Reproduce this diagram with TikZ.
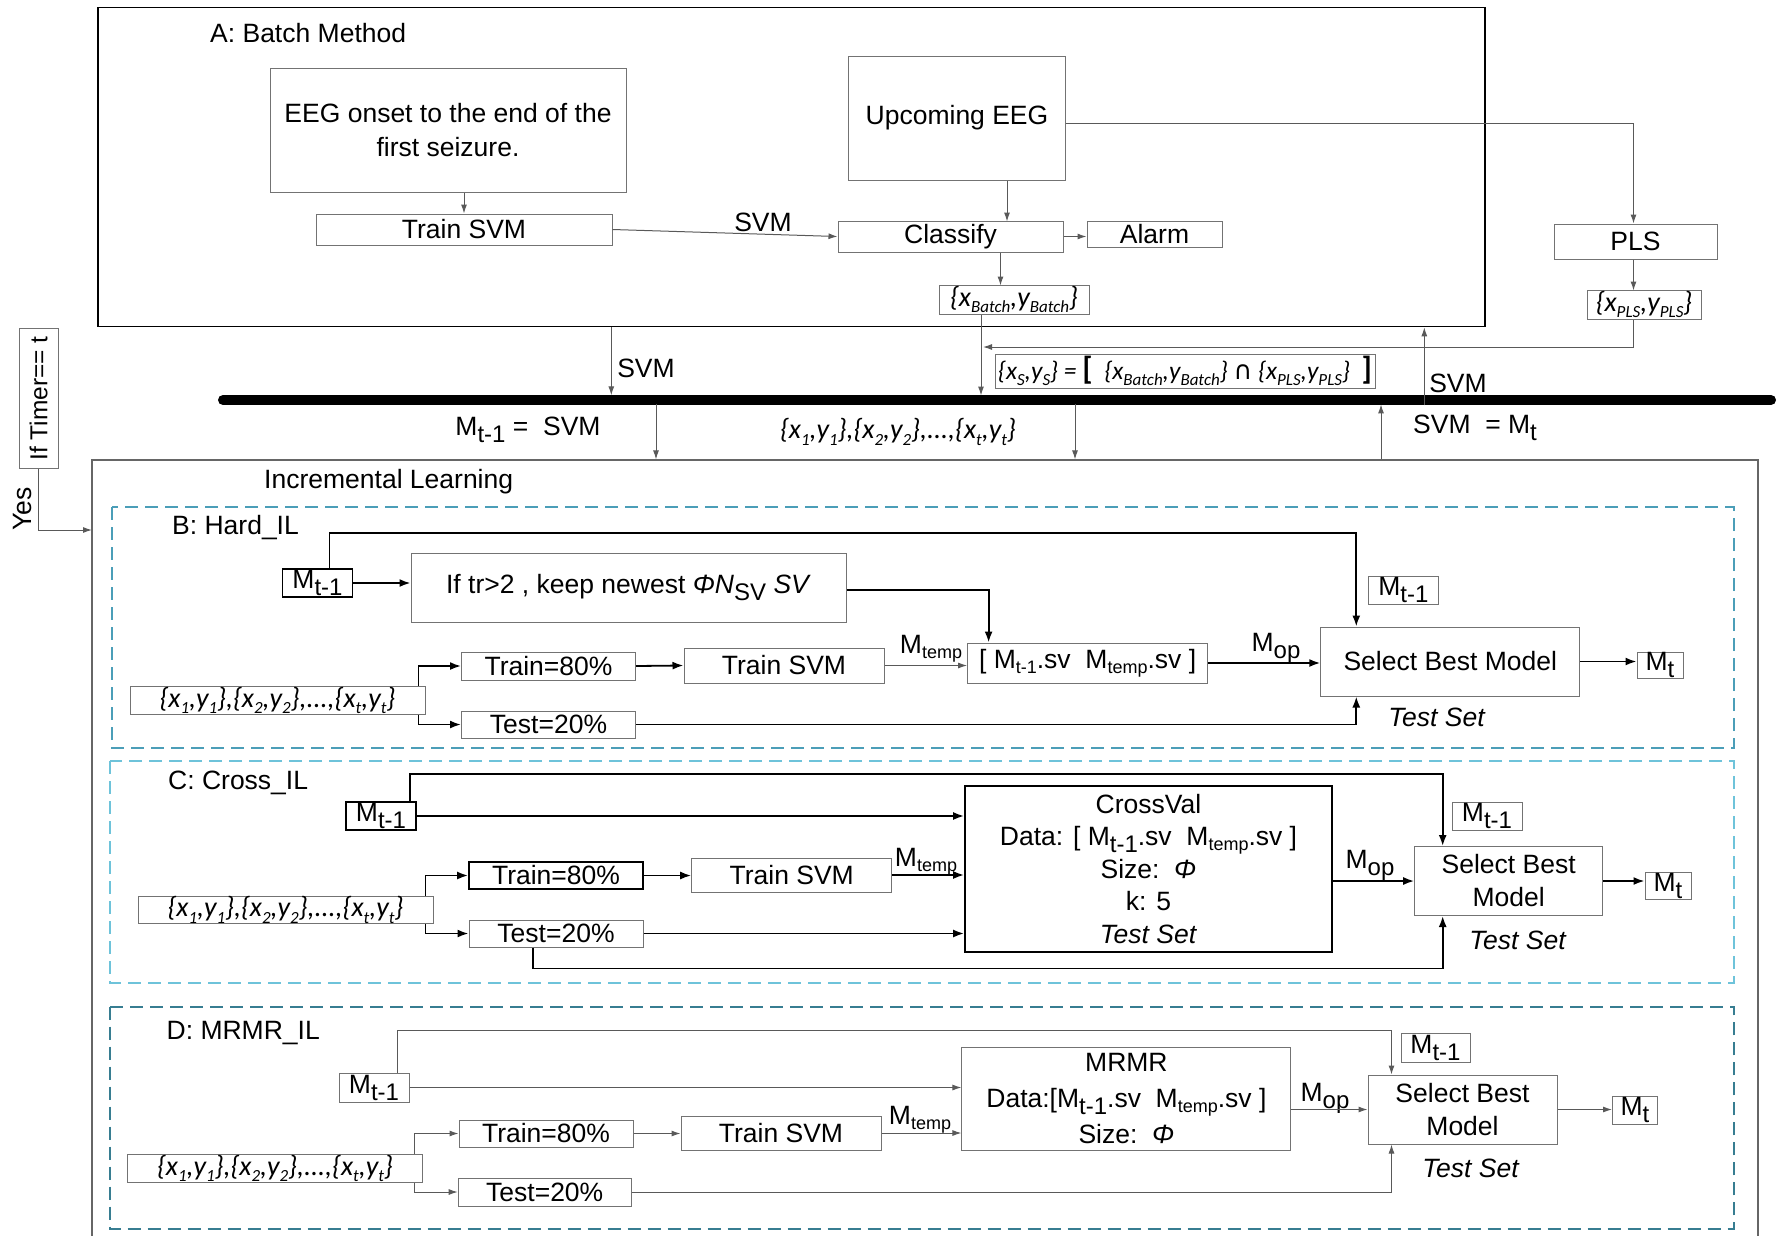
\documentclass[tikz,border=0pt]{standalone}
\usepackage{fontspec}
\setmainfont{Liberation Sans}
\newfontfamily\calfont{Carlito}
\newfontfamily\dejavu{DejaVu Sans}
\usetikzlibrary{arrows.meta}
\definecolor{colB}{RGB}{75,158,184}
\definecolor{colC}{RGB}{110,195,218}
\definecolor{colD}{RGB}{55,125,145}
\newcommand\lowr[1]{\raisebox{-0.5ex}{\fontsize{24}{24}\selectfont #1}}
\newcommand\Msub[1]{M\lowr{#1}}
\newcommand\Msm[1]{M\raisebox{-0.35ex}{\fontsize{18}{18}\selectfont #1}}
\newcommand\Mtmp{\Msm{temp}}
\newcommand\subc[1]{\raisebox{-0.5ex}{\fontsize{17}{17}\selectfont #1}}
\newcommand\xylist{{\calfont\itshape\fontsize{28}{28}\selectfont\{x\subc{1},y\subc{1}\},\{x\subc{2},y\subc{2}\},...,\{x\subc{t},y\subc{t}\}}}
\begin{document}
\begin{tikzpicture}[x=1pt,y=-1pt,
  every node/.style={font=\fontsize{26.5}{32}\selectfont, inner sep=0pt},
  box/.style={draw=black!55, line width=1pt},
  boxk/.style={draw=black, line width=1.8pt},
  sz/.style 2 args={minimum width=#1pt, minimum height=#2pt},
  arr/.style={draw=black!65, line width=1pt, -{Latex[length=9pt,width=6pt]}},
  arrk/.style={draw=black, line width=1.8pt, -{Latex[length=11pt,width=8pt]}},
  grp/.style={draw=#1, line width=1.6pt, dash pattern=on 13pt off 7pt},
  ttl/.style={anchor=west}]
\useasboundingbox (0,0) rectangle (1783,1235);

% A: batch method
\node[draw, line width=1.6pt, sz={1387}{319}] (batch) at (791.3,167) {};
\node[ttl] (tA) at (210,33) {A: Batch Method};
\node[box, sz={356}{124}, align=center, font=\fontsize{26.5}{34}\selectfont] (onset) at (448,130) {EEG onset to the end of the\\first seizure.};
\node[box, sz={296}{31}] (trainA) at (464,229.5) {Train SVM};
\node[box, sz={217}{124}] (upc) at (957,118) {Upcoming EEG};
\node[box, sz={225}{31}] (cls) at (950.5,236.5) {Classify};
\node[box, sz={135}{26}] (alarm) at (1154.5,234) {Alarm};
\node[box, sz={150}{29}] (xbat) at (1014,299.5) {\calfont\itshape\fontsize{28}{28}\selectfont\{x\subc{Batch},y\subc{Batch}\}};
\node[box, sz={163}{35}] (pls) at (1635.5,241.5) {PLS};
\node[box, sz={114}{29}] (xpls) at (1644,304.5) {\calfont\itshape\fontsize{28}{28}\selectfont\{x\subc{PLS},y\subc{PLS}\}};
\node[box, sz={380}{34}] (xs) at (1185,371) {\calfont\itshape\fontsize{25.5}{26}\selectfont\{x\subc{S},y\subc{S}\} = {\fontsize{32}{32}\selectfont\upshape\bfseries[}\ \ \{x\subc{Batch},y\subc{Batch}\} {\dejavu\upshape ∩} \{x\subc{PLS},y\subc{PLS}\}\ \ {\fontsize{32}{32}\selectfont\upshape\bfseries]}};
\node (lsvm1) at (763,222) {SVM};

\draw[arr] (onset.south -| trainA.north) -- (trainA.north);
\draw[arr] (trainA.east) -- (cls.west);
\draw[arr] ([xshift=50]upc.south) -- ++(0,41);
\draw[arr] ([xshift=50]cls.south) -- ++(0,33);
\draw[arr] (cls.east) -- (cls.east -| alarm.west);
\draw[arr] ([yshift=-5]upc.east) -| ([xshift=-2]pls.north);
\draw[arr] ([xshift=-2]pls.south) -- ++(0,31);
\coordinate (merge) at (983,347);
\draw[arr] ([xshift=-11]xpls.south) |- (merge);
\draw[arr] ([xshift=-33]xbat.south) -- ++(0,81);

% bus
\draw[line width=10pt, line cap=round] (223,400) coordinate (barL) -- (1771,400) coordinate (barR);
\draw[arr] ([xshift=-180]batch.south) -- ++(0,68);
\node (lsvm2) at (646,368) {SVM};
\draw[arr] ([xshift=633,yshift=-78]batch.south) -- ([xshift=633]batch.south);
\node (lsvm3) at (1458,383) {SVM};

% timer
\node[box, rotate=90, sz={140}{39}, font=\fontsize{24.5}{30}\selectfont] (timer) at (38.5,398.5) {If Timer== t};
\node[rotate=90] (yes) at (23,509) {Yes};
\coordinate (yesend) at (92,530);
\draw[arr] (timer.west) |- (yesend);

% incremental learning
\node[draw=black!60, line width=1.2pt, sz={1666}{785}] (il) at (925,852.5) {};
\node[ttl] (tIL) at (264,482) {Incremental Learning};
\draw[arr] ([xshift=-269,yshift=55]il.north) -- ([xshift=-269]il.north);
\node (lm1) at (528,430) {\Msub{t-1} =\ \ SVM};
\draw[arr] ([xshift=150,yshift=55]il.north) -- ([xshift=150]il.north);
\node (lxy) at (898,432) {\xylist};
\draw[arr] ([xshift=456]il.north) -- ++(0,-55);
\node (lmt) at (1475,428) {SVM\ \ = \Msub{t}};

% B: hard
\draw[grp=colB] (112,507) rectangle (1734,748);
\node[ttl] (tB) at (172,528) {B: Hard\_IL};
\node[boxk, sz={70}{28}] (bM) at (317.5,583) {\Msub{t-1}};
\node[box, sz={435}{69}] (bIf) at (628.5,587.5) {If tr>2 , keep newest \textit{ΦN}\lowr{SV} \textit{SV}};
\node[box, sz={174}{28}] (bTr) at (548.5,666) {Train=80\%};
\node[box, sz={200}{35}] (bSvm) at (784,665.5) {Train SVM};
\node[box, sz={240}{40}] (bCat) at (1087.6,663) {[ \Msm{t-1}.sv\ \ \Mtmp.sv ]};
\node[box, sz={259}{69}] (bSel) at (1450.3,661.5) {Select Best Model};
\node[box, sz={70}{28}] (bMl) at (1403.3,590) {\Msub{t-1}};
\node[box, sz={46}{26}] (bMt) at (1660,665) {\Msub{t}};
\node[box, sz={295}{27}] (bData) at (277.5,700.5) {\xylist};
\node[box, sz={174}{27}] (bTe) at (548.5,724.5) {Test=20\%};
\node (bTs) at (1437,717) {\textit{Test Set}};
\node (bMtmp) at (931,649) {\Mtmp};
\node (bMop) at (1276,648) {\Msub{op}};

\draw[arrk] ([xshift=12]bM.north) -- ++(0,-35) -| ([xshift=-94]bSel.north);
\draw[arrk] (bM.east) -- (bM.east -| bIf.west);
\draw[arrk] ([yshift=-2.5]bIf.east) -| ([xshift=-99]bCat.north);
\draw[arrk] ([xshift=-7]bData.north east) |- (bTr.west);
\draw[arrk] ([xshift=-7]bData.south east) |- (bTe.west);
\draw[arrk] (bTr.east) -- (bSvm.west);
\draw[arr] (bSvm.east) -- (bSvm.east -| bCat.west);
\draw[arrk] (bCat.east) -- (bCat.east -| bSel.west);
\draw[arrk] (bTe.east) -| ([xshift=-94]bSel.south);
\draw[arrk] (bSel.east) -- (bSel.east -| bMt.west);

% C: cross
\draw[grp=colC] (110,761) rectangle (1734,983);
\node[ttl] (tC) at (168,783) {C: Cross\_IL};
\node[boxk, sz={70}{28}] (cM) at (381,816) {\Msub{t-1}};
\node[boxk, sz={367}{166}, align=center, font=\fontsize{26.5}{32.5}\selectfont] (cVal) at (1148.5,869) {CrossVal\\Data: [ \Msub{t-1}.sv\ \ \Mtmp.sv ]\\Size:\ \ \textit{Φ}\\k: 5\\\textit{Test Set}};
\node[boxk, sz={174}{27}] (cTr) at (556,875.5) {Train=80\%};
\node[box, sz={200}{34}] (cSvm) at (791.7,875) {Train SVM};
\node[box, sz={295}{26}] (cData) at (285.5,910) {\xylist};
\node[box, sz={174}{27}] (cTe) at (556,933.5) {Test=20\%};
\node[box, sz={188}{69}, align=center, font=\fontsize{26.5}{33}\selectfont] (cSel) at (1508.7,881) {Select Best\\Model};
\node[box, sz={70}{28}] (cMl) at (1487,816) {\Msub{t-1}};
\node[box, sz={46}{27}] (cMt) at (1668,886) {\Msub{t}};
\node (cTs) at (1518,940) {\textit{Test Set}};
\node (cMtmp) at (926,862) {\Mtmp};
\node (cMop) at (1370,865) {\Msub{op}};

\draw[arrk] ([xshift=29]cM.north) -- ++(0,-27) -| ([xshift=-66]cSel.north);
\draw[arrk] (cM.east) -- (cM.east -| cVal.west);
\draw[arrk] (cTr.east) -- (cTr.east -| cSvm.west);
\draw[arrk] (cSvm.east) -- (cSvm.east -| cVal.west);
\draw[arrk] ([xshift=-8]cData.north east) |- (cTr.west);
\draw[arrk] ([xshift=-8]cData.south east) |- (cTe.west);
\draw[arrk] (cTe.east) -- (cTe.east -| cVal.west);
\draw[arrk] ([xshift=-23]cTe.south) -- ++(0,21) -| ([xshift=-66]cSel.south);
\draw[arrk] (cVal.east |- cSel.west) -- (cSel.west);
\draw[arrk] (cSel.east) -- (cSel.east -| cMt.west);

% D: mrmr
\draw[grp=colD] (110,1006.7) rectangle (1734,1229);
\node[ttl] (tD) at (166.5,1033) {D: MRMR\_IL};
\node[box, sz={70}{29}] (dM) at (374,1087.5) {\Msub{t-1}};
\node[box, sz={329}{103}, align=center, font=\fontsize{26.5}{36}\selectfont] (dMr) at (1126.4,1098.5) {MRMR\\Data:[\Msub{t-1}.sv\ \ \Mtmp.sv ]\\Size:\ \ \textit{Φ}};
\node[box, sz={174}{27}] (dTr) at (546,1133.5) {Train=80\%};
\node[box, sz={200}{34}] (dSvm) at (781,1133) {Train SVM};
\node[box, sz={295}{27}] (dData) at (275,1168.5) {\xylist};
\node[box, sz={173}{28}] (dTe) at (544.7,1192) {Test=20\%};
\node[box, sz={189}{69}, align=center, font=\fontsize{26.5}{33}\selectfont] (dSel) at (1462.5,1109.5) {Select Best\\Model};
\node[box, sz={69}{29}] (dMl) at (1435.5,1047.5) {\Msub{t-1}};
\node[box, sz={45}{28}] (dMt) at (1635,1110) {\Msub{t}};
\node (dTs) at (1471,1168) {\textit{Test Set}};
\node (dMtmp) at (920,1120) {\Mtmp};
\node (dMop) at (1325,1098) {\Msub{op}};

\draw[arr] ([xshift=23]dM.north) -- ++(0,-42) -| ([xshift=-71]dSel.north);
\draw[arr] (dM.east) -- (dM.east -| dMr.west);
\draw[arr] (dTr.east) -- (dTr.east -| dSvm.west);
\draw[arr] (dSvm.east) -- (dSvm.east -| dMr.west);
\draw[arr] ([xshift=-8.5]dData.north east) |- (dTr.west);
\draw[arr] ([xshift=-8.5]dData.south east) |- (dTe.west);
\draw[arr] (dTe.east) -| ([xshift=-71]dSel.south);
\draw[arr] (dMr.east |- dSel.west) -- (dSel.west);
\draw[arr] (dSel.east) -- (dSel.east -| dMt.west);
\end{tikzpicture}
\end{document}
